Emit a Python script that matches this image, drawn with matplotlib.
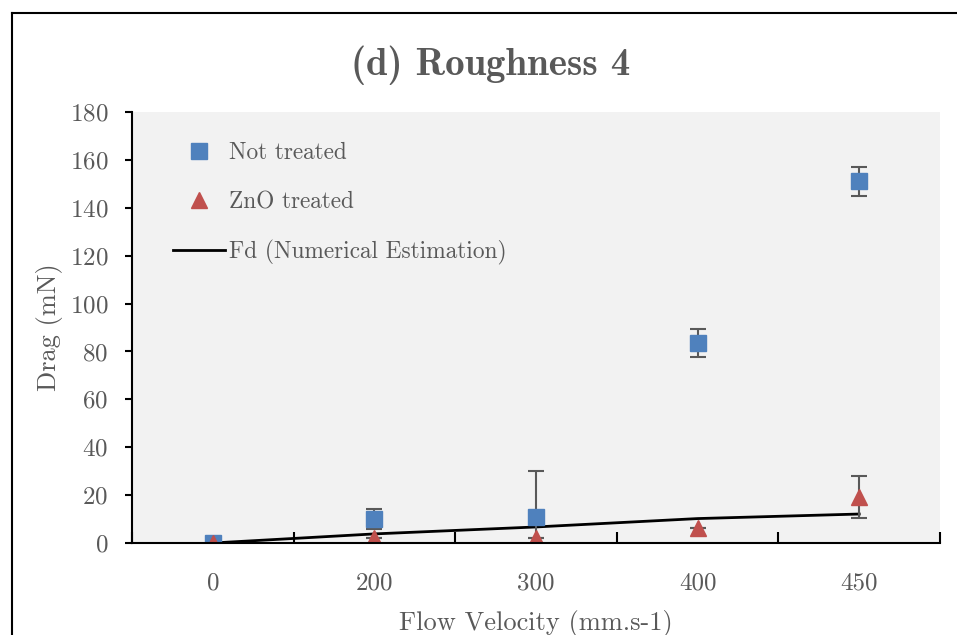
import numpy as np
import matplotlib.pyplot as plt
from matplotlib.lines import Line2D

# data
velocity = ['0', '200', '300', '400', '450']
not_treated = [0, 10, 11, 83.5, 151]
not_treated_err = [0, 4, 19, 6, 6]
zno_treated = [0, 2, 2, 6.3, 19.3]
zno_treated_err = [0, 0, 0, 0, 8.8]
fd_numerical = [0, 3.8, 6.7, 10.2, 12.1]

plt.rcParams['font.family'] = ['cmr10', 'DejaVu Serif']
plt.rcParams['axes.formatter.use_mathtext'] = True
text_color = '#595959'

fig = plt.figure(figsize=(9.57, 6.35), dpi=100)
ax = fig.add_axes([132 / 957, 1 - 543 / 635, 808 / 957, 431 / 635])
ax.set_facecolor('#f2f2f2')

x = np.arange(len(velocity))
ax.plot(x, fd_numerical, color='black', lw=2, zorder=2, label='Fd (Numerical Estimation)')
ax.errorbar(x, not_treated, yerr=not_treated_err, fmt='none', ecolor=text_color,
            elinewidth=1.5, capsize=6, capthick=1.5, zorder=3)
ax.errorbar(x, zno_treated, yerr=zno_treated_err, fmt='none', ecolor=text_color,
            elinewidth=1.5, capsize=6, capthick=1.5, zorder=3)
ax.plot(x, not_treated, 's', color='#4f81bd', ms=11, ls='none', zorder=4, label='Not treated')
ax.plot(x, zno_treated, '^', color='#c0504d', ms=12, ls='none', zorder=5, label='ZnO treated')

ax.set_xlim(-0.5, 4.5)
ax.set_ylim(0, 180)
ax.set_yticks(np.arange(0, 181, 20))
ax.set_xticks(x)
ax.set_xticklabels(velocity)
ax.set_xticks(np.arange(-0.5, 4.6, 1), minor=True)
ax.tick_params(axis='x', which='major', length=0, pad=21, labelsize=18, labelcolor=text_color)
ax.tick_params(axis='x', which='minor', length=8, width=1.5, direction='in', color='black')
ax.tick_params(axis='y', length=5, width=1.5, direction='out', labelsize=18,
               labelcolor=text_color, color='black', pad=12)

for side in ['top', 'right']:
    ax.spines[side].set_visible(False)
ax.spines['bottom'].set_linewidth(1.5)
ax.spines['left'].set_linewidth(1.5)
ax.spines['bottom'].set_zorder(6)

ax.set_ylabel('Drag (mN)', fontsize=19, color=text_color, labelpad=5)
ax.set_xlabel('Flow Velocity (mm.s-1)', fontsize=19, color=text_color, labelpad=11)

handles, labels = ax.get_legend_handles_labels()
order = [1, 2, 0]
ax.legend([handles[i] for i in order], [labels[i] for i in order], loc='upper left',
          bbox_to_anchor=(0.025, 0.979), frameon=False, fontsize=16.8, labelcolor=text_color,
          handlelength=2.2, handletextpad=0.2, labelspacing=1.15)

fig.text(491 / 957, 1 - 65 / 635, '(d) Roughness 4', family='cmb10', fontsize=28,
         color=text_color, ha='center', va='center')

# outer frame of the chart area
fig.add_artist(Line2D([12 / 957, 12 / 957], [0, 1 - 13 / 635], color='black', lw=1.5))
fig.add_artist(Line2D([12 / 957, 1], [1 - 13 / 635, 1 - 13 / 635], color='black', lw=1.5))

fig.savefig('out.png', dpi=100)
